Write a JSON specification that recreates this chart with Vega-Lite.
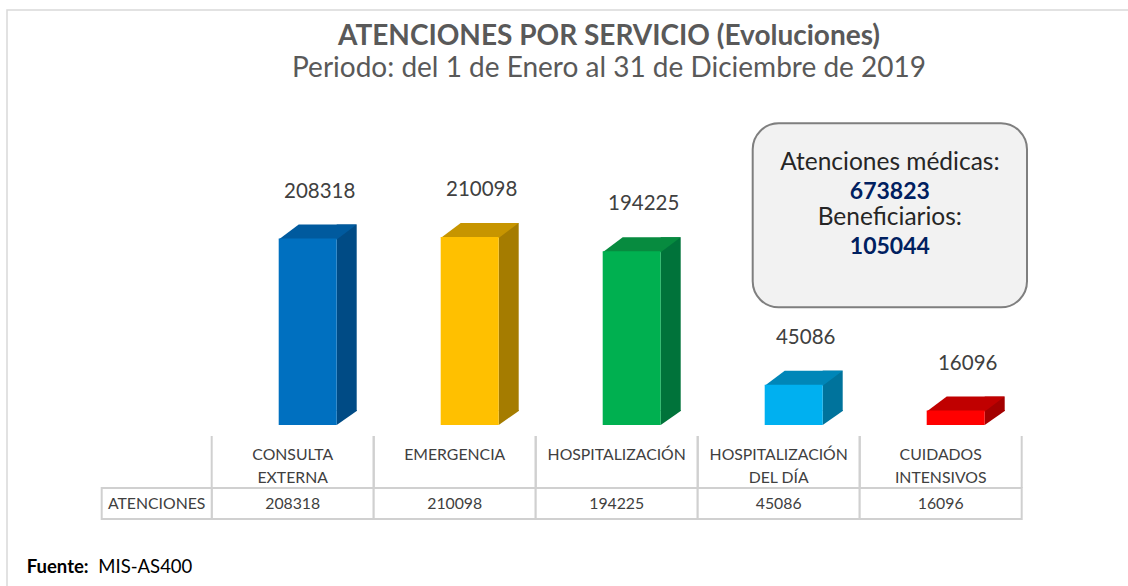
{
  "$schema": "https://vega.github.io/schema/vega-lite/v6.json",
  "width": 1204,
  "height": 600,
  "autosize": {"type": "none"},
  "padding": {"left": 7, "top": 10, "right": -83, "bottom": -24},
  "background": "white",
  "config": {"view": {"stroke": "#D9D9D9", "strokeWidth": 1.5}, "font": "Lato"},
  "title": {
    "text": "ATENCIONES POR SERVICIO (Evoluciones)",
    "subtitle": "Periodo: del 1 de Enero al 31 de Diciembre de 2019",
    "anchor": "middle",
    "offset": -73,
    "font": "Lato",
    "fontSize": 28,
    "fontWeight": "bold",
    "color": "#595959",
    "subtitleFont": "Lato",
    "subtitleFontSize": 28,
    "subtitleColor": "#595959",
    "subtitlePadding": 4
  },
  "datasets": {
    "servicios": [
      {"servicio": "CONSULTA EXTERNA", "atenciones": 208318},
      {"servicio": "EMERGENCIA", "atenciones": 210098},
      {"servicio": "HOSPITALIZACIÓN", "atenciones": 194225},
      {"servicio": "HOSPITALIZACIÓN DEL\u00a0DÍA", "atenciones": 45086},
      {"servicio": "CUIDADOS INTENSIVOS", "atenciones": 16096}
    ],
    "fila": [{"fila": "ATENCIONES"}],
    "recuadro": [{"recuadro": "resumen"}],
    "resumen": [
      {"concepto": "Atenciones médicas:", "total": 673823},
      {"concepto": "Beneficiarios:", "total": 105044}
    ],
    "nota": [{"etiqueta": "Fuente:", "origen": "MIS-AS400"}]
  },
  "resolve": {"scale": {"x": "independent", "y": "independent", "color": "independent"}},
  "layer": [
    {
      "data": {"name": "servicios"},
      "mark": {"type": "bar", "width": 20, "xOffset": 54, "yOffset": -14, "y2Offset": -14},
      "encoding": {
        "x": {"field": "servicio", "type": "nominal", "sort": null, "axis": null, "scale": {"type": "band", "domain": ["CONSULTA EXTERNA", "EMERGENCIA", "HOSPITALIZACIÓN", "HOSPITALIZACIÓN DEL\u00a0DÍA", "CUIDADOS INTENSIVOS"], "range": [204.7, 1014.7], "paddingInner": 0, "paddingOuter": 0}},
        "y": {"field": "atenciones", "type": "quantitative", "axis": null, "scale": {"domain": [0, 250000], "range": [415, 191.25], "nice": false}},
        "color": {"field": "servicio", "type": "nominal", "legend": null, "scale": {"domain": ["CONSULTA EXTERNA", "EMERGENCIA", "HOSPITALIZACIÓN", "HOSPITALIZACIÓN DEL\u00a0DÍA", "CUIDADOS INTENSIVOS"], "range": ["#004B85", "#A57C00", "#00733A", "#00739C", "#A30000"]}}
      }
    },
    {
      "data": {"name": "servicios"},
      "mark": {"type": "point", "shape": "M 29 0 L 29 -15 L 49 -15 L 49 -14 Z", "size": 4, "filled": true, "opacity": 1, "strokeWidth": 0, "xOffset": 15},
      "encoding": {
        "x": {"field": "servicio", "type": "nominal", "sort": null, "axis": null, "scale": {"type": "band", "domain": ["CONSULTA EXTERNA", "EMERGENCIA", "HOSPITALIZACIÓN", "HOSPITALIZACIÓN DEL\u00a0DÍA", "CUIDADOS INTENSIVOS"], "range": [204.7, 1014.7], "paddingInner": 0, "paddingOuter": 0}},
        "y": {"datum": 0, "type": "quantitative", "axis": null, "scale": {"domain": [0, 250000], "range": [415, 191.25], "nice": false}},
        "color": {"field": "servicio", "type": "nominal", "legend": null, "scale": {"domain": ["CONSULTA EXTERNA", "EMERGENCIA", "HOSPITALIZACIÓN", "HOSPITALIZACIÓN DEL\u00a0DÍA", "CUIDADOS INTENSIVOS"], "range": ["#004B85", "#A57C00", "#00733A", "#00739C", "#A30000"]}}
      }
    },
    {
      "data": {"name": "servicios"},
      "mark": {"type": "point", "shape": "M -29 1 L 29 1 L 49 -14 L -9 -14 Z", "size": 4, "filled": true, "opacity": 1, "strokeWidth": 0, "xOffset": 15},
      "encoding": {
        "x": {"field": "servicio", "type": "nominal", "sort": null, "axis": null, "scale": {"type": "band", "domain": ["CONSULTA EXTERNA", "EMERGENCIA", "HOSPITALIZACIÓN", "HOSPITALIZACIÓN DEL\u00a0DÍA", "CUIDADOS INTENSIVOS"], "range": [204.7, 1014.7], "paddingInner": 0, "paddingOuter": 0}},
        "y": {"field": "atenciones", "type": "quantitative", "axis": null, "scale": {"domain": [0, 250000], "range": [415, 191.25], "nice": false}},
        "color": {"field": "servicio", "type": "nominal", "legend": null, "scale": {"domain": ["CONSULTA EXTERNA", "EMERGENCIA", "HOSPITALIZACIÓN", "HOSPITALIZACIÓN DEL\u00a0DÍA", "CUIDADOS INTENSIVOS"], "range": ["#005A9E", "#C79500", "#078B3F", "#0086B8", "#C00000"]}}
      }
    },
    {
      "data": {"name": "servicios"},
      "mark": {"type": "bar", "width": 58, "xOffset": 15},
      "encoding": {
        "x": {"field": "servicio", "type": "nominal", "sort": null, "axis": null, "scale": {"type": "band", "domain": ["CONSULTA EXTERNA", "EMERGENCIA", "HOSPITALIZACIÓN", "HOSPITALIZACIÓN DEL\u00a0DÍA", "CUIDADOS INTENSIVOS"], "range": [204.7, 1014.7], "paddingInner": 0, "paddingOuter": 0}},
        "y": {"field": "atenciones", "type": "quantitative", "axis": null, "scale": {"domain": [0, 250000], "range": [415, 191.25], "nice": false}},
        "color": {"field": "servicio", "type": "nominal", "legend": null, "scale": {"domain": ["CONSULTA EXTERNA", "EMERGENCIA", "HOSPITALIZACIÓN", "HOSPITALIZACIÓN DEL\u00a0DÍA", "CUIDADOS INTENSIVOS"], "range": ["#0070C0", "#FFC000", "#00B050", "#00B0F0", "#FF0000"]}}
      }
    },
    {
      "data": {"name": "servicios"},
      "mark": {"type": "text", "dx": 27, "dy": -47, "fontSize": 20.5, "color": "#404040", "baseline": "middle", "align": "center"},
      "encoding": {
        "x": {"field": "servicio", "type": "nominal", "sort": null, "axis": null, "scale": {"type": "band", "domain": ["CONSULTA EXTERNA", "EMERGENCIA", "HOSPITALIZACIÓN", "HOSPITALIZACIÓN DEL\u00a0DÍA", "CUIDADOS INTENSIVOS"], "range": [204.7, 1014.7], "paddingInner": 0, "paddingOuter": 0}},
        "y": {"field": "atenciones", "type": "quantitative", "axis": null, "scale": {"domain": [0, 250000], "range": [415, 191.25], "nice": false}},
        "text": {"field": "atenciones", "type": "quantitative", "format": "d"}
      }
    },
    {
      "data": {"name": "servicios"},
      "mark": {"type": "rule", "color": "#D0D0D0", "strokeWidth": 2},
      "encoding": {
        "x": {"field": "servicio", "type": "nominal", "sort": null, "axis": null, "bandPosition": 0, "scale": {"type": "band", "domain": ["CONSULTA EXTERNA", "EMERGENCIA", "HOSPITALIZACIÓN", "HOSPITALIZACIÓN DEL\u00a0DÍA", "CUIDADOS INTENSIVOS"], "range": [204.7, 1014.7], "paddingInner": 0, "paddingOuter": 0}},
        "y": {"datum": 0, "type": "quantitative", "axis": null, "scale": {"domain": [0, 1], "range": [478, 426]}},
        "y2": {"datum": 1}
      }
    },
    {
      "data": {"name": "servicios"},
      "mark": {"type": "rule", "color": "#D0D0D0", "strokeWidth": 2},
      "encoding": {
        "x": {"field": "servicio", "type": "nominal", "sort": null, "axis": null, "bandPosition": 1, "scale": {"type": "band", "domain": ["CONSULTA EXTERNA", "EMERGENCIA", "HOSPITALIZACIÓN", "HOSPITALIZACIÓN DEL\u00a0DÍA", "CUIDADOS INTENSIVOS"], "range": [204.7, 1014.7], "paddingInner": 0, "paddingOuter": 0}},
        "y": {"datum": 0, "type": "quantitative", "axis": null, "scale": {"domain": [0, 1], "range": [478, 426]}},
        "y2": {"datum": 1}
      }
    },
    {
      "data": {"name": "servicios"},
      "mark": {"type": "text", "fontSize": 15.8, "color": "#404040", "baseline": "top", "align": "center", "dy": 12, "lineBreak": " ", "lineHeight": 23},
      "encoding": {
        "x": {"field": "servicio", "type": "nominal", "sort": null, "axis": null, "scale": {"type": "band", "domain": ["CONSULTA EXTERNA", "EMERGENCIA", "HOSPITALIZACIÓN", "HOSPITALIZACIÓN DEL\u00a0DÍA", "CUIDADOS INTENSIVOS"], "range": [204.7, 1014.7], "paddingInner": 0, "paddingOuter": 0}},
        "y": {"datum": 1, "type": "quantitative", "axis": null, "scale": {"domain": [0, 1], "range": [478, 426]}},
        "text": {"field": "servicio", "type": "nominal"}
      }
    },
    {
      "data": {"name": "servicios"},
      "mark": {"type": "rect", "fill": "white", "stroke": "#D0D0D0", "strokeWidth": 2},
      "encoding": {
        "x": {"field": "servicio", "type": "nominal", "sort": null, "axis": null, "scale": {"type": "band", "domain": ["CONSULTA EXTERNA", "EMERGENCIA", "HOSPITALIZACIÓN", "HOSPITALIZACIÓN DEL\u00a0DÍA", "CUIDADOS INTENSIVOS"], "range": [204.7, 1014.7], "paddingInner": 0, "paddingOuter": 0}},
        "y": {"datum": 0, "type": "quantitative", "axis": null, "scale": {"domain": [0, 1], "range": [509, 478]}},
        "y2": {"datum": 1}
      }
    },
    {
      "data": {"name": "servicios"},
      "mark": {"type": "text", "fontSize": 15.8, "color": "#404040", "baseline": "middle", "align": "center"},
      "encoding": {
        "x": {"field": "servicio", "type": "nominal", "sort": null, "axis": null, "scale": {"type": "band", "domain": ["CONSULTA EXTERNA", "EMERGENCIA", "HOSPITALIZACIÓN", "HOSPITALIZACIÓN DEL\u00a0DÍA", "CUIDADOS INTENSIVOS"], "range": [204.7, 1014.7], "paddingInner": 0, "paddingOuter": 0}},
        "y": {"datum": 0.5, "type": "quantitative", "axis": null, "scale": {"domain": [0, 1], "range": [509, 478]}},
        "text": {"field": "atenciones", "type": "quantitative", "format": "d"}
      }
    },
    {
      "data": {"name": "fila"},
      "mark": {"type": "rect", "fill": "white", "stroke": "#D0D0D0", "strokeWidth": 2},
      "encoding": {
        "x": {"field": "fila", "type": "nominal", "axis": null, "scale": {"type": "band", "domain": ["ATENCIONES"], "range": [94.7, 204.7], "paddingInner": 0, "paddingOuter": 0}},
        "y": {"datum": 0, "type": "quantitative", "axis": null, "scale": {"domain": [0, 1], "range": [509, 478]}},
        "y2": {"datum": 1}
      }
    },
    {
      "data": {"name": "fila"},
      "mark": {"type": "text", "fontSize": 15.8, "color": "#404040", "baseline": "middle", "align": "center"},
      "encoding": {
        "x": {"field": "fila", "type": "nominal", "axis": null, "scale": {"type": "band", "domain": ["ATENCIONES"], "range": [94.7, 204.7], "paddingInner": 0, "paddingOuter": 0}},
        "y": {"datum": 0.5, "type": "quantitative", "axis": null, "scale": {"domain": [0, 1], "range": [509, 478]}},
        "text": {"field": "fila", "type": "nominal"}
      }
    },
    {
      "data": {"name": "recuadro"},
      "mark": {"type": "rect", "cornerRadius": 26, "fill": "#F2F2F2", "stroke": "#7F7F7F", "strokeWidth": 2},
      "encoding": {
        "x": {"field": "recuadro", "type": "nominal", "axis": null, "scale": {"type": "band", "domain": ["resumen"], "range": [745.7, 1020], "paddingInner": 0, "paddingOuter": 0}},
        "y": {"field": "recuadro", "type": "nominal", "axis": null, "scale": {"type": "band", "domain": ["resumen"], "range": [113.3, 297.3], "paddingInner": 0, "paddingOuter": 0}}
      }
    },
    {
      "data": {"name": "resumen"},
      "mark": {"type": "text", "fontSize": 24.5, "color": "#262626", "baseline": "middle", "align": "center"},
      "encoding": {
        "x": {"datum": "resumen", "type": "nominal", "axis": null, "scale": {"type": "band", "domain": ["resumen"], "range": [745.7, 1020], "paddingInner": 0, "paddingOuter": 0}},
        "y": {"field": "concepto", "type": "nominal", "axis": null, "sort": null, "scale": {"type": "point", "domain": ["Atenciones médicas:", "Beneficiarios:"], "range": [153.3, 208.3], "padding": 0}},
        "text": {"field": "concepto", "type": "nominal"}
      }
    },
    {
      "data": {"name": "resumen"},
      "mark": {"type": "text", "fontSize": 23, "fontWeight": "bold", "color": "#002060", "baseline": "middle", "align": "center", "dy": 28.4},
      "encoding": {
        "x": {"datum": "resumen", "type": "nominal", "axis": null, "scale": {"type": "band", "domain": ["resumen"], "range": [745.7, 1020], "paddingInner": 0, "paddingOuter": 0}},
        "y": {"field": "concepto", "type": "nominal", "axis": null, "sort": null, "scale": {"type": "point", "domain": ["Atenciones médicas:", "Beneficiarios:"], "range": [153.3, 208.3], "padding": 0}},
        "text": {"field": "total", "type": "quantitative", "format": "d"}
      }
    },
    {
      "data": {"name": "nota"},
      "mark": {"type": "text", "fontSize": 18.5, "fontWeight": "bold", "color": "#000000", "baseline": "middle", "align": "left"},
      "encoding": {
        "x": {"field": "etiqueta", "type": "nominal", "axis": null, "scale": {"type": "point", "domain": ["Fuente:", "MIS-AS400"], "range": [19.7, 91.3], "padding": 0}},
        "y": {"field": "etiqueta", "type": "nominal", "axis": null, "scale": {"type": "point", "domain": ["Fuente:"], "range": [557, 557], "padding": 0}},
        "text": {"field": "etiqueta", "type": "nominal"}
      }
    },
    {
      "data": {"name": "nota"},
      "mark": {"type": "text", "fontSize": 18.5, "color": "#000000", "baseline": "middle", "align": "left"},
      "encoding": {
        "x": {"field": "origen", "type": "nominal", "axis": null, "scale": {"type": "point", "domain": ["Fuente:", "MIS-AS400"], "range": [19.7, 91.3], "padding": 0}},
        "y": {"field": "etiqueta", "type": "nominal", "axis": null, "scale": {"type": "point", "domain": ["Fuente:"], "range": [557, 557], "padding": 0}},
        "text": {"field": "origen", "type": "nominal"}
      }
    }
  ]
}
